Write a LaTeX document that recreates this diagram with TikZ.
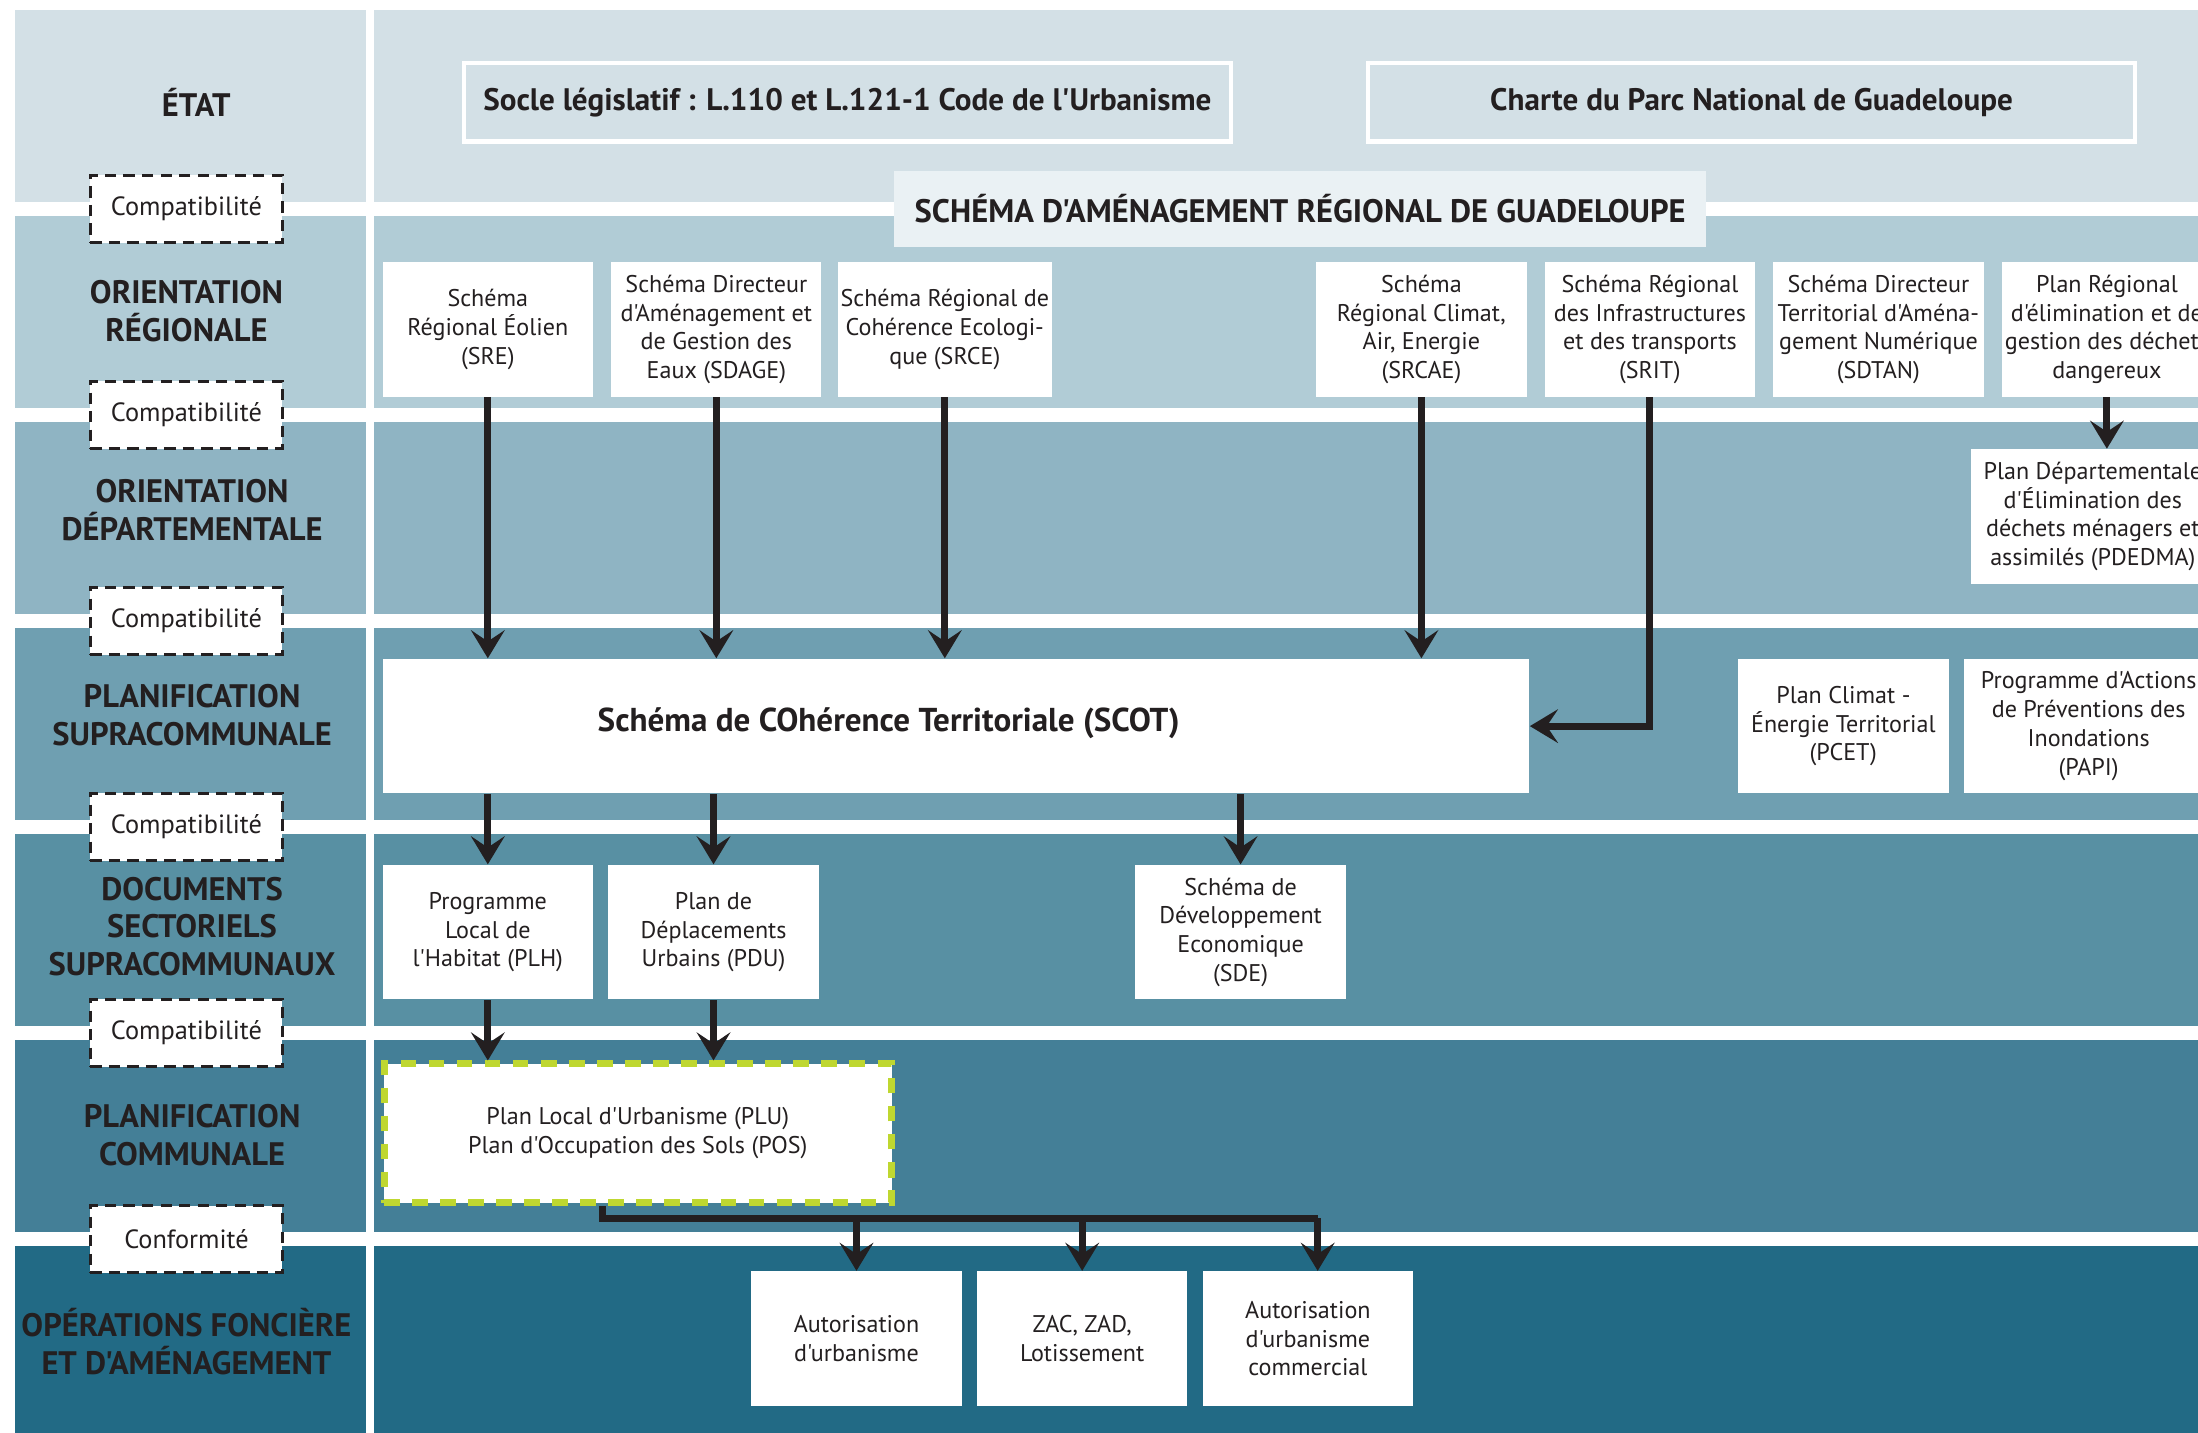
\documentclass[tikz,border=0pt]{standalone}
\usepackage{fontspec}
\setmainfont{PT Sans}[Ligatures=TeXOff]
\usetikzlibrary{arrows.meta,positioning}
\definecolor{bandA}{HTML}{D3E0E6}
\definecolor{bandB}{HTML}{B1CCD6}
\definecolor{bandC}{HTML}{8FB4C3}
\definecolor{bandD}{HTML}{6F9FB1}
\definecolor{bandE}{HTML}{5890A3}
\definecolor{bandF}{HTML}{447F97}
\definecolor{bandG}{HTML}{226A85}
\definecolor{sarfill}{HTML}{EAF1F4}
\definecolor{ink}{HTML}{231F20}
\definecolor{lime}{HTML}{BFD730}
\tikzset{
  doc/.style={fill=white, minimum width=75pt, minimum height=48pt, inner sep=1pt,
    align=center, text=ink, font=\fontsize{8.6}{10.25}\selectfont},
  tier/.style={align=center, text=ink, font=\fontsize{11.6}{13.5}\selectfont\bfseries},
  compat/.style={draw=ink, dash pattern=on 4pt off 2.6pt, line width=1pt, fill=white,
    minimum width=68.5pt, minimum height=24pt, text=ink, font=\fontsize{9.4}{11}\selectfont},
  frame/.style={draw=white, line width=1.5pt, minimum width=273.5pt, minimum height=28pt,
    text=ink, font=\fontsize{11.1}{13}\selectfont\bfseries},
  link/.style={draw=ink, line width=2.5pt},
  arr/.style={link, -{Stealth[length=10pt,width=12pt,inset=4pt]}},
}
\begin{document}
\begin{tikzpicture}[x=0.5pt,y=-0.5pt]
\useasboundingbox (0,0) rectangle (1568,1022);
\clip (0,0) rectangle (1568,1022);
\fill[white] (0,0) rectangle (1568,1022);
\foreach \c [count=\i from 0] in {bandA,bandB,bandC,bandD,bandE,bandF,bandG}{
  \fill[\c] (11,7+147*\i) rectangle (261,144+147*\i);
  \fill[\c] (267,7+147*\i) rectangle (1600,144+147*\i);
}

\node[tier] (etat) at (140,73) {ÉTAT};
\node[tier] (oreg) at (133,222) {ORIENTATION\\RÉGIONALE};
\node[tier] (odep) at (137,364) {ORIENTATION\\DÉPARTEMENTALE};
\node[tier] (psup) at (137,510) {PLANIFICATION\\SUPRACOMMUNALE};
\node[tier] (dsec) at (137,661) {DOCUMENTS\\SECTORIELS\\SUPRACOMMUNAUX};
\node[tier] (pcom) at (137,810) {PLANIFICATION\\COMMUNALE};
\node[tier] (ofon) at (133,957) {OPÉRATIONS FONCIÈRE\\ET D'AMÉNAGEMENT};

\foreach \y/\t [count=\i] in {149/Compatibilité,296/Compatibilité,443/Compatibilité,590/Compatibilité,737/Compatibilité,884/Conformité}
  \node[compat] (cmp\i) at (133,\y) {\t};

\node[frame,fill=bandA] (socle) at (604.5,73) {Socle législatif : L.110 et L.121-1 Code de l'Urbanisme};
\node[frame,fill=bandA] (charte) at (1249.5,73) {Charte du Parc National de Guadeloupe};
\node[frame,draw=none,fill=sarfill,minimum width=289.5pt,minimum height=27pt,font=\fontsize{11.6}{13}\selectfont\bfseries] (sar) at (927.5,149) {SCHÉMA D'AMÉNAGEMENT RÉGIONAL DE GUADELOUPE};

\node[doc] (sre) at (348,235) {Schéma\\Régional Éolien\\(SRE)};
\node[doc] (sdage) at (511,235) {Schéma Directeur\\d'Aménagement et\\de Gestion des\\Eaux (SDAGE)};
\node[doc] (srce) at (674,235) {Schéma Régional de\\Cohérence Ecologi-\\que (SRCE)};
\node[doc] (srcae) at (1014,235) {Schéma\\Régional Climat,\\Air, Energie\\(SRCAE)};
\node[doc] (srit) at (1177,235) {Schéma Régional\\des Infrastructures\\et des transports\\(SRIT)};
\node[doc] (sdtan) at (1340,235) {Schéma Directeur\\Territorial d'Aména-\\gement Numérique\\(SDTAN)};
\node[doc] (pred) at (1503,235) {Plan Régional\\d'élimination et de\\gestion des déchets\\dangereux};

\node[doc,minimum width=87pt] (pdedma) at (1493,368.5) {Plan Départementale\\d'Élimination des\\déchets ménagers et\\assimilés (PDEDMA)};

\node[doc,minimum width=409pt] (scot) at (682,518) {};
\node[text=ink,font=\fontsize{11.8}{13}\selectfont\bfseries] (scottxt) at (634,516) {Schéma de COhérence Territoriale (SCOT)};
\node[doc] (pcet) at (1315,518) {Plan Climat -\\Énergie Territorial\\(PCET)};
\node[doc,minimum width=89pt] (papi) at (1490,518) {Programme d'Actions\\de Préventions des\\Inondations\\(PAPI)};

\node[doc] (plh) at (348,665) {Programme\\Local de\\l'Habitat (PLH)};
\node[doc] (pdu) at (509,665) {Plan de\\Déplacements\\Urbains (PDU)};
\node[doc] (sde) at (885,665) {Schéma de\\Développement\\Economique\\(SDE)};

\node[doc,minimum width=181pt,minimum height=49.5pt,draw=lime,line width=2.5pt,dash pattern=on 5.5pt off 4.5pt] (plu) at (455,808.5) {Plan Local d'Urbanisme (PLU)\\Plan d'Occupation des Sols (POS)};

\node[doc] (aut) at (611,955) {Autorisation\\d'urbanisme};
\node[doc] (zac) at (772,955) {ZAC, ZAD,\\Lotissement};
\node[doc] (comm) at (933,955) {Autorisation\\d'urbanisme\\commercial};

\foreach \n in {sre,sdage,srce,srcae}
  \draw[arr] (\n.south) -- (\n.south |- scot.north);
\draw[arr] (srit.south) |- (scot.east);
\draw[arr] (pred.south) -- (pred.south |- pdedma.north);
\foreach \n in {plh,pdu,sde}
  \draw[arr] (\n.north |- scot.south) -- (\n.north);
\foreach \n in {plh,pdu}
  \draw[arr] (\n.south) -- (\n.south |- plu.north);

\coordinate (busL) at (430,869);
\coordinate (busR) at (940,869);
\draw[link] (plu.south -| busL) -- (busL) -- (busR);
\draw[arr] (busR) -- (busR |- comm.north);
\draw[arr] (aut.north |- busL) -- (aut.north);
\draw[arr] (zac.north |- busL) -- (zac.north);
\end{tikzpicture}
\end{document}
